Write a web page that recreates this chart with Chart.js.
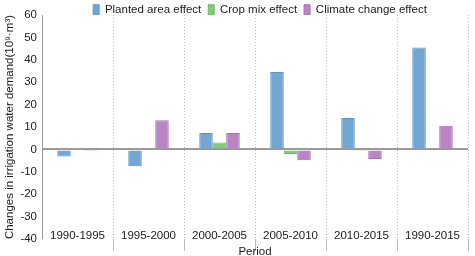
<!DOCTYPE html>
<html>
<head>
<meta charset="utf-8">
<script src="https://cdn.jsdelivr.net/npm/chart.js@4/dist/chart.umd.min.js"></script>
<style>
  html, body { margin: 0; padding: 0; background: #fff; }
  #wrap { width: 475px; height: 256px; }
</style>
</head>
<body>
<div id="wrap"><canvas id="waterChart"></canvas></div>
<script>
const periods = ['1990-1995', '1995-2000', '2000-2005', '2005-2010', '2010-2015', '1990-2015'];
const plantedArea = [-3.2, -7.5, 7.3, 34.5, 14.0, 45.5];
const cropMix = [0.2, 0.3, 3.1, -2.1, -0.2, 0.4];
const climateChange = [-0.3, 13.0, 7.3, -4.8, -4.3, 10.6];
const yTicks = [60, 50, 40, 30, 20, 10, 0, -10, -20, -30, -40];

const font = "'Liberation Sans', Arial, sans-serif";

// keep the legend strip short and nudge it right, like the original
const legendTweak = {
    id: 'legendTweak',
    beforeUpdate(chart) {
        const legend = chart.legend;
        if (legend && !legend._patched) {
            const fit = legend.fit;
            legend.fit = function () {
                fit.call(this);
                this.height = 18;
            };
            legend._patched = true;
        }
    },
    afterLayout(chart) {
        chart.legend.left += 5;
        chart.legend.right += 5;
    }
};

new Chart(document.getElementById('waterChart').getContext('2d'), {
    type: 'bar',
    data: {
        labels: periods,
        datasets: [
            {
                label: 'Planted area effect',
                data: plantedArea,
                backgroundColor: 'rgb(115, 166, 211)',
                borderColor: 'rgb(88, 148, 203)',
                borderWidth: 1
            },
            {
                label: 'Crop mix effect',
                data: cropMix,
                backgroundColor: 'rgb(132, 202, 122)',
                borderColor: 'rgb(108, 188, 100)',
                borderWidth: 1
            },
            {
                label: 'Climate change effect',
                data: climateChange,
                backgroundColor: 'rgb(187, 133, 197)',
                borderColor: 'rgb(166, 108, 180)',
                borderWidth: 1
            }
        ]
    },
    plugins: [legendTweak],
    options: {
        responsive: true,
        maintainAspectRatio: false,
        animation: false,
        layout: { padding: { left: 0, right: 7, top: -3, bottom: 0 } },
        datasets: {
            bar: { barPercentage: 1, categoryPercentage: 0.57 }
        },
        plugins: {
            tooltip: { enabled: false },
            legend: {
                position: 'top',
                fullSize: false,
                labels: {
                    boxWidth: 6,
                    boxHeight: 10,
                    padding: 7,
                    color: '#222',
                    font: { family: font, size: 11.5 }
                }
            }
        },
        scales: {
            x: {
                afterFit: (scale) => { scale.height = 17; },
                grid: {
                    offset: true,
                    color: (ctx) => (ctx.index === 0 || ctx.index === periods.length) ? 'rgba(0,0,0,0)' : '#bbbbbb',
                    lineWidth: 1,
                    drawTicks: true,
                    tickLength: 12
                },
                border: { display: false, dash: [1, 2] },
                ticks: {
                    mirror: true,
                    padding: -4,
                    color: '#222',
                    font: { family: font, size: 11.5 }
                },
                title: {
                    display: true,
                    text: 'Period',
                    color: '#222',
                    padding: 0,
                    font: { family: font, size: 11.5, lineHeight: 0.7 }
                }
            },
            y: {
                min: -40,
                max: 60,
                afterFit: (scale) => { scale.width = 42; },
                afterBuildTicks: (scale) => {
                    scale.ticks = yTicks.map(v => ({ value: v }));
                },
                grid: {
                    drawTicks: false,
                    color: (ctx) => ctx.tick && ctx.tick.value === 0 ? '#9a9a9a' : 'rgba(0,0,0,0)',
                    lineWidth: (ctx) => ctx.tick && ctx.tick.value === 0 ? 2 : 0
                },
                border: { display: true, color: '#9a9a9a', width: 1 },
                ticks: {
                    padding: 5,
                    color: '#222',
                    font: { family: font, size: 11.5 }
                },
                title: {
                    display: true,
                    text: 'Changes in irrigation water demand(10\u2079\u00b7m\u00b3)',
                    color: '#222',
                    padding: { top: 3, bottom: 0 },
                    font: { family: font, size: 11.5 }
                }
            }
        }
    }
});
</script>
</body>
</html>
